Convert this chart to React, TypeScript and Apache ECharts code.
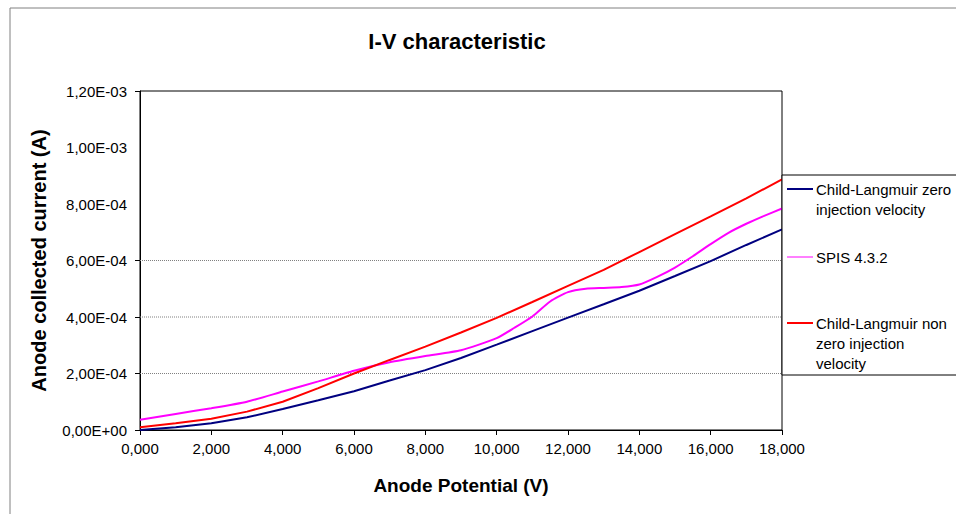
import React, { useEffect, useRef } from "react";
import * as echarts from "echarts";

const voltage = [0, 1000, 2000, 3000, 4000, 5000, 6000, 7000, 8000, 9000, 10000, 11000, 12000, 13000, 14000, 15000, 16000, 17000, 18000];
const childZero = [0, 9.5e-6, 2.4e-5, 4.5e-5, 7.4e-5, 1.05e-4, 1.37e-4, 1.75e-4, 2.12e-4, 2.55e-4, 3.02e-4, 3.5e-4, 3.98e-4, 4.45e-4, 4.93e-4, 5.45e-4, 5.98e-4, 6.55e-4, 7.1e-4];
const childNonZero = [1.0e-5, 2.4e-5, 4.0e-5, 6.5e-5, 1.0e-4, 1.48e-4, 2.0e-4, 2.48e-4, 2.95e-4, 3.45e-4, 3.97e-4, 4.53e-4, 5.1e-4, 5.67e-4, 6.3e-4, 6.93e-4, 7.56e-4, 8.2e-4, 8.87e-4];
const spisVoltage = [0, 1000, 2000, 3000, 4000, 5000, 6000, 7000, 8000, 9000, 10000, 10500, 11000, 11500, 12000, 12500, 13000, 13500, 14000, 14500, 15000, 15500, 16000, 16500, 17000, 17500, 18000];
const spisCurrent = [3.6e-5, 5.7e-5, 7.7e-5, 1.0e-4, 1.36e-4, 1.72e-4, 2.1e-4, 2.4e-4, 2.62e-4, 2.82e-4, 3.25e-4, 3.62e-4, 4.02e-4, 4.55e-4, 4.88e-4, 5.0e-4, 5.03e-4, 5.06e-4, 5.15e-4, 5.42e-4, 5.75e-4, 6.15e-4, 6.58e-4, 6.98e-4, 7.3e-4, 7.58e-4, 7.84e-4];

const xTickLabels = ["0,000", "2,000", "4,000", "6,000", "8,000", "10,000", "12,000", "14,000", "16,000", "18,000"];
const yTickLabels = ["0,00E+00", "2,00E-04", "4,00E-04", "6,00E-04", "8,00E-04", "1,00E-03", "1,20E-03"];
const gridValues = [2e-4, 4e-4, 6e-4];
const yTickValues = [0, 2e-4, 4e-4, 6e-4, 1.2e-3];
const xRange = [0, 18000];

const seriesNames = ["Child-Langmuir zero\ninjection velocity", "SPIS 4.3.2", "Child-Langmuir non\nzero injection\nvelocity"];
const seriesColors = ["#000080", "#FF00FF", "#FF0000"];

const FONT = "'Liberation Sans', Arial, sans-serif";

export default function App() {
  const ref = useRef<HTMLDivElement>(null);
  useEffect(() => {
    document.body.style.margin = "0";
    const chart = echarts.init(ref.current!, null, { renderer: "svg" });
    const zip = (xs: number[], ys: number[]) => xs.map((x, i) => [x, ys[i]]);

    const legendRows = [
      { y: 189, color: seriesColors[0], lines: seriesNames[0].split("\n") },
      { y: 257, color: seriesColors[1], lines: seriesNames[1].split("\n"), thin: true },
      { y: 323, color: seriesColors[2], lines: seriesNames[2].split("\n") },
    ];
    const legendGraphics: any[] = [
      { type: "rect", shape: { x: 782, y: 175, width: 300, height: 200 }, style: { fill: "#fff", stroke: "#000", lineWidth: 1 }, z: 10 },
    ];
    legendRows.forEach((r) => {
      legendGraphics.push({
        type: "line",
        shape: { x1: 787, y1: r.y, x2: 813, y2: r.y },
        style: { stroke: r.color, lineWidth: r.thin ? 1 : 2 },
        z: 11,
      });
      r.lines.forEach((t, i) => {
        legendGraphics.push({
          type: "text",
          x: 816,
          y: r.y + i * 20,
          style: { text: t, fill: "#000", font: `15px ${FONT}`, verticalAlign: "middle" },
          z: 11,
        });
      });
    });

    const gridSeries = gridValues.map((v) => ({
      type: "line",
      data: xRange.map((x) => [x, v]),
      showSymbol: false,
      silent: true,
      lineStyle: { color: "#808080", type: "dotted", width: 1 },
      z: 1,
    }));

    chart.setOption({
      animation: false,
      backgroundColor: "#fff",
      title: {
        text: "I-V characteristic",
        left: 452,
        top: 25,
        textAlign: "center",
        textStyle: { fontFamily: "'Liberation Sans Narrow', " + FONT, fontWeight: "bold", fontSize: 22, color: "#000" },
      },
      grid: {
        left: 140,
        top: 91,
        width: 642,
        height: 339,
        show: true,
        borderColor: "#000",
        borderWidth: 1,
        backgroundColor: "transparent",
      },
      xAxis: {
        type: "value",
        min: 0,
        max: 18000,
        interval: 2000,
        name: "Anode Potential (V)",
        nameLocation: "middle",
        nameGap: 46,
        nameTextStyle: { fontFamily: FONT, fontWeight: "bold", fontSize: 19, color: "#000" },
        axisLine: { lineStyle: { color: "#000", width: 1 } },
        axisTick: { show: true, inside: false, length: 5, lineStyle: { color: "#000" } },
        axisLabel: {
          margin: 11,
          fontFamily: FONT,
          fontSize: 15,
          color: "#000",
          formatter: (v: number) => xTickLabels[Math.round(v / 2000)] ?? "",
        },
        splitLine: { show: false },
      },
      yAxis: {
        type: "value",
        min: 0,
        max: 0.0012,
        interval: 0.0002,
        name: "Anode collected current (A)",
        nameLocation: "middle",
        nameGap: 91,
        nameTextStyle: { fontFamily: FONT, fontWeight: "bold", fontSize: 20, color: "#000" },
        axisLine: { show: true, lineStyle: { color: "#000", width: 1 } },
        axisTick: { show: true, inside: false, length: 5, lineStyle: { color: "#000" }, customValues: yTickValues },
        axisLabel: {
          margin: 13,
          fontFamily: FONT,
          fontSize: 15,
          color: "#000",
          formatter: (v: number) => yTickLabels[Math.round(v / 0.0002)] ?? "",
        },
        splitLine: { show: false },
      },
      series: [
        ...gridSeries,
        {
          name: seriesNames[0],
          type: "line",
          data: zip(voltage, childZero),
          showSymbol: false,
          lineStyle: { color: seriesColors[0], width: 2 },
          itemStyle: { color: seriesColors[0] },
          z: 3,
        },
        {
          name: seriesNames[1],
          type: "line",
          data: zip(spisVoltage, spisCurrent),
          smooth: 0.2,
          showSymbol: false,
          lineStyle: { color: seriesColors[1], width: 2 },
          itemStyle: { color: seriesColors[1] },
          z: 4,
        },
        {
          name: seriesNames[2],
          type: "line",
          data: zip(voltage, childNonZero),
          showSymbol: false,
          lineStyle: { color: seriesColors[2], width: 2 },
          itemStyle: { color: seriesColors[2] },
          z: 5,
        },
      ],
      graphic: [
        { type: "rect", shape: { x: 10, y: 8, width: 1000, height: 600 }, style: { fill: "none", stroke: "#808080", lineWidth: 1 }, z: 0, silent: true },
        ...legendGraphics,
      ],
    });
    return () => chart.dispose();
  }, []);
  return <div ref={ref} style={{ width: 956, height: 514 }} />;
}
